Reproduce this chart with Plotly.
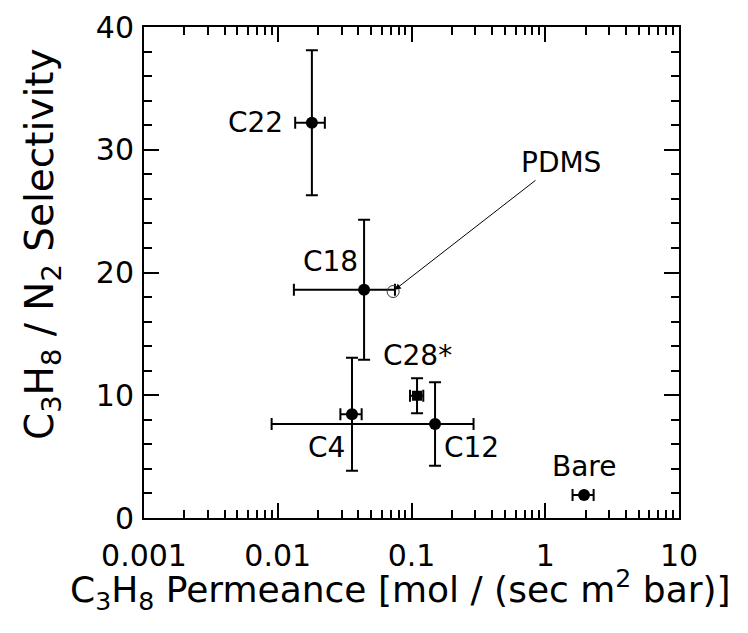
import math
import plotly.graph_objects as go

# Coated membranes: C3H8 permeance vs. C3H8/N2 selectivity
names = ["C22", "C18", "C4", "C12", "Bare"]
permeance = [0.018, 0.0442, 0.0359, 0.150, 1.95]
permeance_err = [0.0045, 0.031, 0.0065, 0.141, 0.35]
selectivity = [32.2, 18.6, 8.45, 7.65, 1.87]
selectivity_err = [5.9, 5.7, 4.6, 3.4, 0.0]

# C28 (starred sample, square marker)
c28_name = "C28*"
c28_permeance = [0.110]
c28_permeance_err = [0.0125]
c28_selectivity = [9.96]
c28_selectivity_err = [1.43]

# PDMS reference membrane
pdms_name = "PDMS"
pdms_permeance = [0.0729]
pdms_selectivity = [18.45]

x_ticks = [0.001, 0.01, 0.1, 1, 10]
x_tick_text = ["0.001", "0.01", "0.1", "1", "10"]
y_ticks = [0, 10, 20, 30, 40]

x_title = "C<sub>3</sub>H<sub>8</sub> Permeance [mol / (sec m<sup>2</sup> bar)]"
y_title = "C<sub>3</sub>H<sub>8</sub> / N<sub>2</sub> Selectivity"

FONT = "DejaVu Sans"
BLACK = "#000000"
W, H = 748, 633
ML, MR, MT, MB = 144, 69, 27, 115
PW, PH = W - ML - MR, H - MT - MB


def paper_x(px):
    return (px - ML) / PW


def paper_y(py):
    return (H - MB - py) / PH


fig = go.Figure()

err_style = dict(type="data", color=BLACK, thickness=2, width=6, symmetric=True)

fig.add_trace(go.Scatter(
    x=permeance, y=selectivity, mode="markers",
    marker=dict(symbol="circle", size=12, color=BLACK),
    error_x=dict(array=permeance_err, **err_style),
    error_y=dict(array=selectivity_err, **err_style),
    showlegend=False,
))

fig.add_trace(go.Scatter(
    x=c28_permeance, y=c28_selectivity, mode="markers",
    marker=dict(symbol="square", size=10, color=BLACK),
    error_x=dict(array=c28_permeance_err, **err_style),
    error_y=dict(array=c28_selectivity_err, **err_style),
    showlegend=False,
))

fig.add_trace(go.Scatter(
    x=pdms_permeance, y=pdms_selectivity, mode="markers",
    marker=dict(symbol="circle-open", size=12, color="#333333", line=dict(width=1)),
    showlegend=False,
))

# label placement (pixel offsets from each point)
label_offsets = {
    "C22": dict(xanchor="right", xshift=-27, yshift=0),
    "C18": dict(xanchor="right", xshift=-4, yshift=28),
    "C4": dict(xanchor="right", xshift=-5, yshift=-33),
    "C12": dict(xanchor="left", xshift=7, yshift=-23),
    "Bare": dict(xanchor="center", xshift=0, yshift=29),
    "C28*": dict(xanchor="center", xshift=0, yshift=40),
}

label_font = dict(family=FONT, size=28, color=BLACK)
for n, px, sy in zip(names + [c28_name], permeance + c28_permeance, selectivity + c28_selectivity):
    fig.add_annotation(x=math.log10(px), y=sy, xref="x", yref="y", text=n,
                       showarrow=False, yanchor="middle", font=label_font,
                       **label_offsets[n])

# PDMS label with pointer to its marker
fig.add_annotation(x=math.log10(1.31), y=29.0, xref="x", yref="y", text=pdms_name,
                   showarrow=False, font=label_font)
fig.add_annotation(x=math.log10(pdms_permeance[0] * 1.03), y=pdms_selectivity[0] + 0.15,
                   ax=math.log10(0.867), ay=27.6, xref="x", yref="y", axref="x", ayref="y",
                   text="", showarrow=True, arrowhead=2, arrowsize=1.2, arrowwidth=1,
                   arrowcolor=BLACK, standoff=0)

# axis titles
fig.add_annotation(x=paper_x(400), y=paper_y(590), xref="paper", yref="paper",
                   text=x_title, showarrow=False, xanchor="center", yanchor="middle",
                   font=dict(family=FONT, size=36, color=BLACK))
fig.add_annotation(x=paper_x(42), y=paper_y(244), xref="paper", yref="paper",
                   text=y_title, textangle=-90, showarrow=False,
                   xanchor="center", yanchor="middle",
                   font=dict(family=FONT, size=39, color=BLACK))

axis_common = dict(
    showline=True, linecolor=BLACK, linewidth=2, mirror="ticks",
    ticks="inside", tickcolor=BLACK, tickwidth=2, ticklen=15,
    showgrid=False, zeroline=False,
    tickfont=dict(family=FONT, size=30, color=BLACK),
)

fig.update_xaxes(
    type="log", range=[-3, 1], tickvals=x_ticks, ticktext=x_tick_text,
    minor=dict(ticks="inside", ticklen=8, tickwidth=2, tickcolor=BLACK, dtick="D1"),
    ticklabelstandoff=10,
    **axis_common,
)
fig.update_yaxes(
    range=[0, 40], tickvals=y_ticks,
    minor=dict(ticks="inside", ticklen=8, tickwidth=2, tickcolor=BLACK, dtick=2),
    ticklabelstandoff=2,
    **axis_common,
)

fig.update_layout(
    width=W, height=H,
    margin=dict(l=ML, r=MR, t=MT, b=MB, autoexpand=False),
    paper_bgcolor="white", plot_bgcolor="white",
    font=dict(family=FONT, color=BLACK),
)

fig.write_html("out.html")
